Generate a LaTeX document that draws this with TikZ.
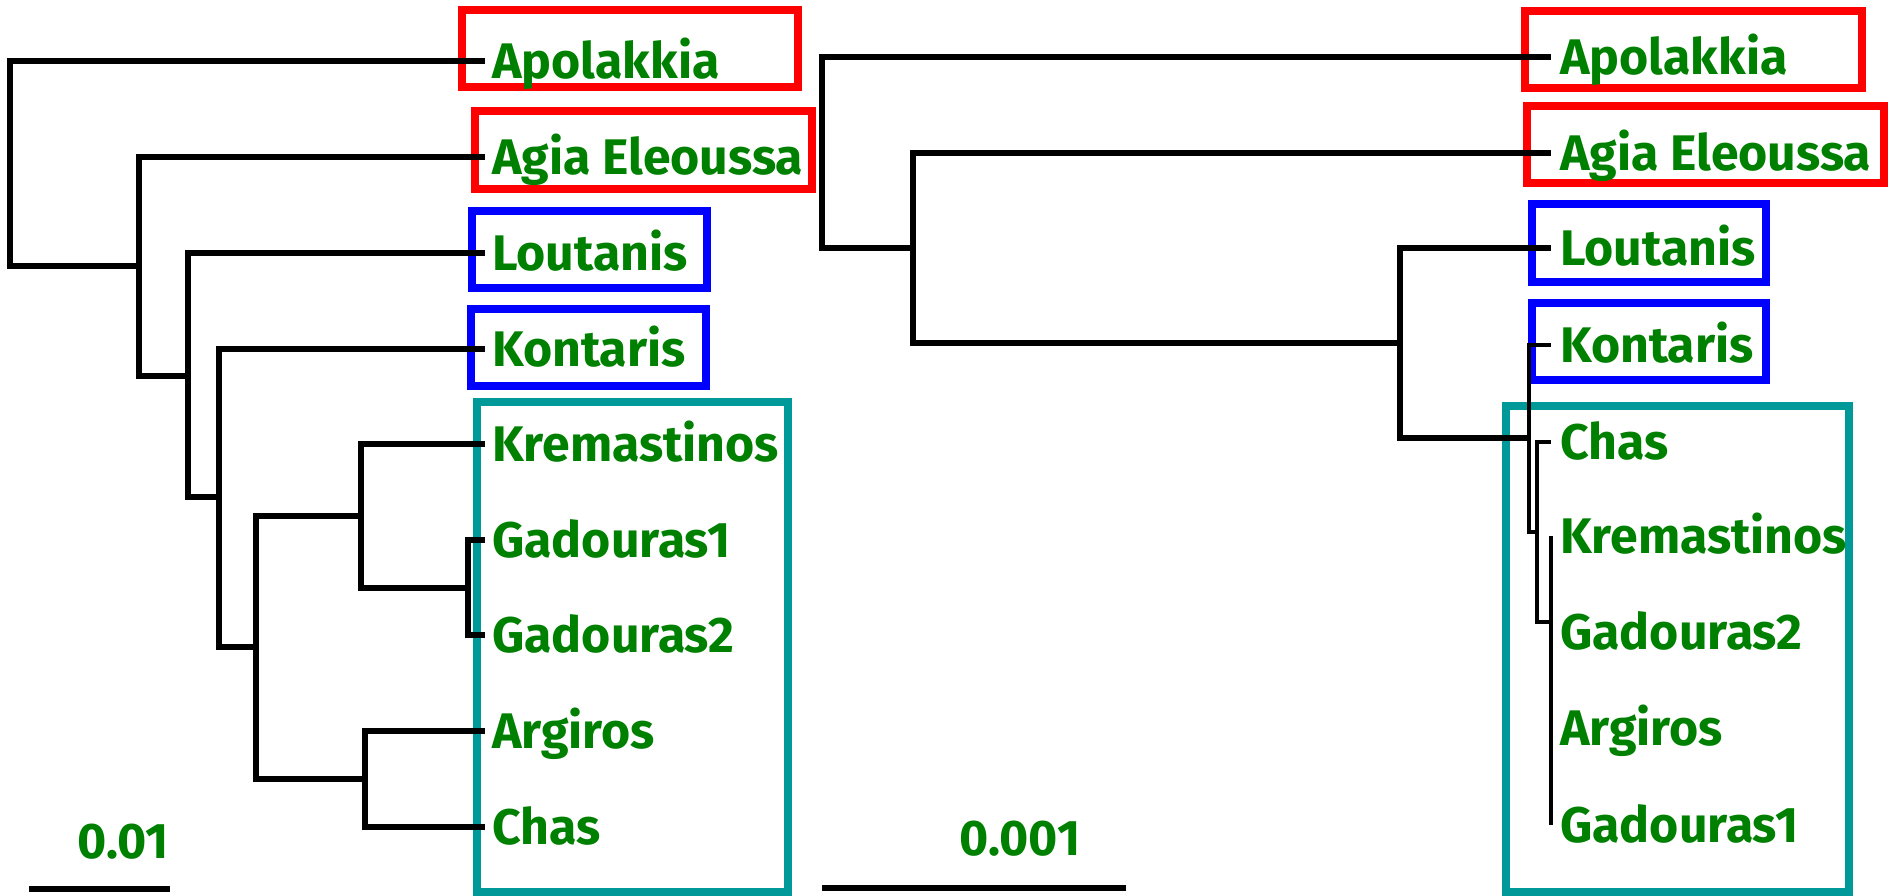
\documentclass[tikz,border=0pt]{standalone}
\usepackage{fontspec}
\setmainfont{Fira Sans}
\definecolor{lbl}{RGB}{0,128,0}
\definecolor{boxred}{RGB}{255,0,0}
\definecolor{boxblue}{RGB}{0,0,255}
\definecolor{boxteal}{RGB}{0,153,153}
\begin{document}
\begin{tikzpicture}[x=1pt,y=-1pt,
  labtxt/.style={inner ysep=0pt, text height=35pt, text depth=0pt,
    font=\fontsize{50}{50}\selectfont\bfseries, text=lbl},
  labl/.style={labtxt, anchor=west, inner xsep=7pt},
  labr/.style={labtxt, anchor=west, inner xsep=9pt},
  br/.style={line width=6pt, black},
  brthin/.style={line width=4.5pt, black},
  frame/.style={line width=8pt},
  scalebar/.style={line width=6.5pt, black}
]
\useasboundingbox (0,0) rectangle (1890,896);

% ---------- boxes ----------
\draw[frame, boxred]  (462,10)  rectangle (798,87);
\draw[frame, boxred]  (475,111) rectangle (812,189);
\draw[frame, boxblue] (472,211) rectangle (707,288);
\draw[frame, boxblue] (471,309) rectangle (706,386);
\draw[frame, boxteal] (477,402) rectangle (788,892);

\draw[frame, boxred]  (1525,11)  rectangle (1862,88);
\draw[frame, boxred]  (1527,106) rectangle (1884,183);
\draw[frame, boxblue] (1532,204) rectangle (1766,282);
\draw[frame, boxblue] (1532,303) rectangle (1766,380);
\draw[frame, boxteal] (1506,406) rectangle (1849,892);

% ---------- left tree labels ----------
\node[labl] (lApo)  at (485,61)  {Apolakkia};
\node[labl] (lAgia) at (485,157) {Agia Eleoussa};
\node[labl] (lLou)  at (485,253) {Loutanis};
\node[labl] (lKon)  at (485,349) {Kontaris};
\node[labl] (lKre)  at (485,444) {Kremastinos};
\node[labl] (lGa1)  at (485,540) {Gadouras1};
\node[labl] (lGa2)  at (485,635) {Gadouras2};
\node[labl] (lArg)  at (485,731) {Argiros};
\node[labl] (lCha)  at (485,827) {Chas};

% ---------- left tree internal nodes ----------
\coordinate (n1) at (10,163);
\coordinate (n2) at (139,266);
\coordinate (n3) at (188,376);
\coordinate (n4) at (219,497);
\coordinate (n5) at (256,647);
\coordinate (n6) at (361,516);
\coordinate (n8) at (468,588);
\coordinate (n7) at (365,779);

\draw[br] (n1) |- (lApo.west);
\draw[br] (n1) |- (n2);
\draw[br] (n2) |- (lAgia.west);
\draw[br] (n2) |- (n3);
\draw[br] (n3) |- (lLou.west);
\draw[br] (n3) |- (n4);
\draw[br] (n4) |- (lKon.west);
\draw[br] (n4) |- (n5);
\draw[br] (n5) |- (n6);
\draw[br] (n5) |- (n7);
\draw[br] (n6) |- (lKre.west);
\draw[br] (n6) |- (n8);
\draw[br] (n8) |- (lGa1.west);
\draw[br] (n8) |- (lGa2.west);
\draw[br] (n7) |- (lArg.west);
\draw[br] (n7) |- (lCha.west);

% ---------- right tree labels ----------
\node[labr] (rApo)  at (1551,57)  {Apolakkia};
\node[labr] (rAgia) at (1551,153) {Agia Eleoussa};
\node[labr] (rLou)  at (1551,248) {Loutanis};
\node[labr] (rKon)  at (1551,345) {Kontaris};
\node[labr] (rCha)  at (1551,442) {Chas};
\node[labr] (rKre)  at (1551,536) {Kremastinos};
\node[labr] (rGa2)  at (1551,632) {Gadouras2};
\node[labr] (rArg)  at (1551,728) {Argiros};
\node[labr] (rGa1)  at (1551,825) {Gadouras1};

% ---------- right tree internal nodes ----------
\coordinate (r1) at (822,150);
\coordinate (r2) at (913,248);
\coordinate (r3) at (1400,343);
\coordinate (r4) at (1529,438);
\coordinate (r5) at (1537,532);
\coordinate (r6) at (1551,622);

\draw[br] (r1) |- (rApo.west);
\draw[br] (r1) |- (r2);
\draw[br] (r2) |- (rAgia.west);
\draw[br] (r2) |- (r3);
\draw[br] (r3) |- (rLou.west);
\draw[br] (r3) |- (r4);
\draw[brthin] (r4) |- (rKon.west);
\draw[brthin] (r4) |- (r5);
\draw[brthin] (r5) |- (rCha.west);
\draw[brthin] (r5) |- (r6);
\draw[brthin] (rKre.west) -- (rGa1.west);

% ---------- scale bars ----------
\node[labtxt] (sLeft)  at (123,841)  {0.01};
\coordinate (sl1) at (29,889);
\coordinate (sl2) at (170,889);
\draw[scalebar] (sl1) -- (sl2);

\node[labtxt] (sRight) at (1020,838) {0.001};
\coordinate (sr1) at (822,888);
\coordinate (sr2) at (1126,888);
\draw[scalebar] (sr1) -- (sr2);
\end{tikzpicture}
\end{document}
